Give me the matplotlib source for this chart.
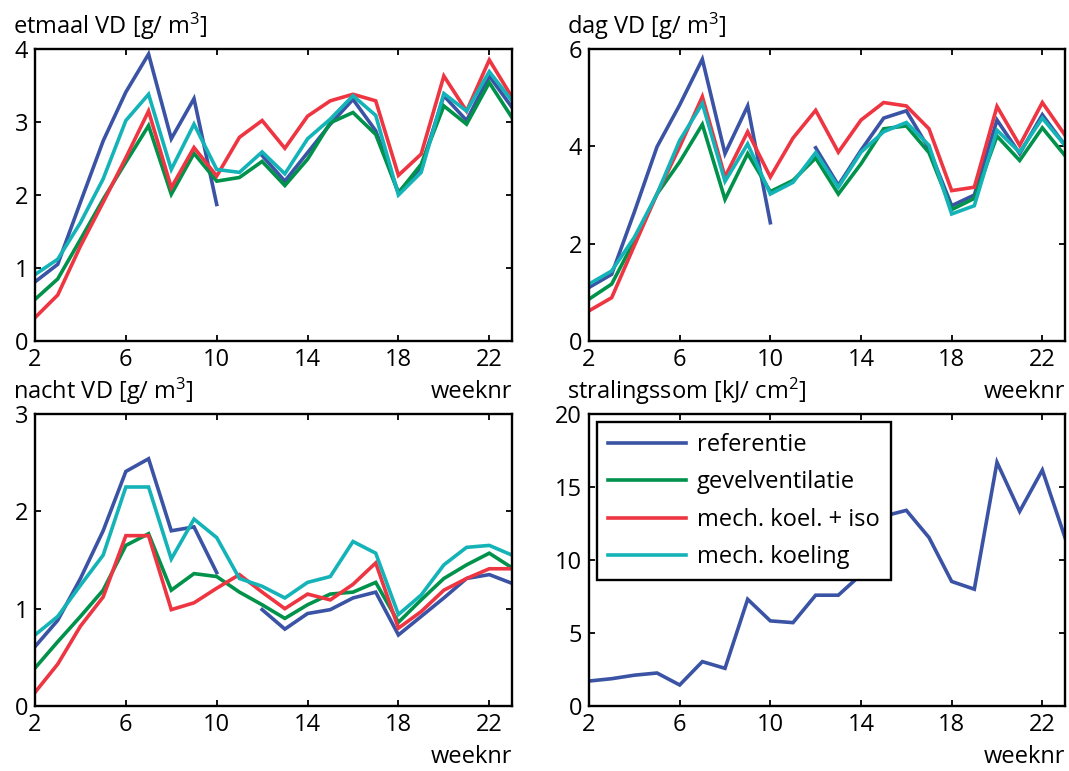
import numpy as np
import matplotlib
matplotlib.use("Agg")
from matplotlib import pyplot as plt

plt.rcParams['font.family'] = ['Open Sans', 'DejaVu Sans']
plt.rcParams['mathtext.fontset'] = 'custom'
plt.rcParams['mathtext.rm'] = 'Open Sans'
plt.rcParams['mathtext.default'] = 'regular'

weeks = list(range(2, 24))
nan = np.nan

names = ['referentie', 'gevelventilatie', 'mech. koel. + iso', 'mech. koeling']
colors = ['#3a53a4', '#00924a', '#ee3542', '#14b3b8']

# etmaal VD [g/m3]
etmaal_ref = [0.81, 1.05, 1.9, 2.74, 3.41, 3.93, 2.77, 3.32, 1.87, nan, 2.54, 2.19,
              2.58, 2.97, 3.31, 2.88, 2.03, 2.38, 3.36, 3.02, 3.63, 3.2]
etmaal_gevel = [0.57, 0.85, 1.39, 1.94, 2.45, 2.95, 2.01, 2.57, 2.19, 2.24, 2.46, 2.13,
                2.49, 2.99, 3.13, 2.83, 2.03, 2.42, 3.22, 2.97, 3.54, 3.06]
etmaal_iso = [0.32, 0.63, 1.3, 1.9, 2.51, 3.15, 2.1, 2.65, 2.26, 2.79, 3.02, 2.64,
              3.08, 3.29, 3.38, 3.29, 2.27, 2.56, 3.63, 3.15, 3.85, 3.34]
etmaal_koel = [0.91, 1.12, 1.62, 2.22, 3.02, 3.38, 2.35, 2.97, 2.35, 2.31, 2.59, 2.29,
               2.77, 3.04, 3.36, 3.09, 2.0, 2.31, 3.39, 3.15, 3.69, 3.29]

# dag VD [g/m3]
dag_ref = [1.1, 1.37, 2.65, 3.99, 4.85, 5.79, 3.85, 4.83, 2.43, nan, 3.97, 3.2,
           3.92, 4.58, 4.73, 3.95, 2.78, 3.0, 4.54, 3.85, 4.65, 4.02]
dag_gevel = [0.86, 1.17, 2.06, 3.02, 3.68, 4.45, 2.91, 3.85, 3.07, 3.3, 3.76, 3.02,
             3.64, 4.36, 4.42, 3.87, 2.7, 2.93, 4.21, 3.71, 4.38, 3.81]
dag_iso = [0.62, 0.89, 1.96, 3.02, 3.99, 5.02, 3.37, 4.3, 3.37, 4.17, 4.74, 3.88,
           4.54, 4.9, 4.83, 4.36, 3.09, 3.16, 4.82, 4.02, 4.9, 4.23]
dag_koel = [1.17, 1.44, 2.13, 3.02, 4.12, 4.88, 3.28, 4.05, 3.02, 3.26, 3.87, 3.16,
            3.88, 4.3, 4.49, 4.02, 2.61, 2.78, 4.33, 3.88, 4.58, 4.02]

# nacht VD [g/m3]
nacht_ref = [0.61, 0.88, 1.31, 1.8, 2.41, 2.54, 1.8, 1.84, 1.37, nan, 0.99, 0.79,
             0.95, 0.99, 1.11, 1.17, 0.73, 0.92, 1.11, 1.31, 1.35, 1.26]
nacht_gevel = [0.39, 0.66, 0.92, 1.19, 1.65, 1.77, 1.19, 1.36, 1.33, 1.17, 1.04, 0.9,
               1.04, 1.15, 1.17, 1.27, 0.86, 1.09, 1.31, 1.45, 1.57, 1.42]
nacht_iso = [0.14, 0.43, 0.82, 1.12, 1.75, 1.75, 0.99, 1.06, 1.21, 1.35, 1.17, 1.0,
             1.15, 1.09, 1.25, 1.47, 0.8, 0.97, 1.19, 1.31, 1.41, 1.41]
nacht_koel = [0.73, 0.92, 1.24, 1.55, 2.25, 2.25, 1.51, 1.92, 1.73, 1.31, 1.23, 1.11,
              1.27, 1.33, 1.69, 1.57, 0.94, 1.14, 1.45, 1.63, 1.65, 1.55]

# stralingssom [kJ/cm2]
straling = [1.71, 1.87, 2.11, 2.26, 1.44, 3.04, 2.58, 7.31, 5.83, 5.71, 7.59, 7.59,
            9.0, 13.0, 13.4, 11.54, 8.53, 8.0, 16.69, 13.33, 16.16, 11.54]

W, H = 1069, 771
fig = plt.figure(figsize=(W / 100, H / 100), dpi=100)

def px_axes(left, top, right, bottom):
    return fig.add_axes([left / W, (H - bottom) / H, (right - left) / W, (bottom - top) / H])

axes = [px_axes(35, 49, 512, 341), px_axes(589, 49, 1065, 341),
        px_axes(35, 414, 512, 706), px_axes(589, 414, 1065, 706)]

fs = 17
lw = 2.6
titles = ['etmaal VD [g/ m$^3$]', 'dag VD [g/ m$^3$]',
          'nacht VD [g/ m$^3$]', 'stralingssom [kJ/ cm$^2$]']
ylims = [(0, 4), (0, 6), (0, 3), (0, 20)]
yticks = [[0, 1, 2, 3, 4], [0, 2, 4, 6], [0, 1, 2, 3], [0, 5, 10, 15, 20]]
series = [[etmaal_ref, etmaal_gevel, etmaal_iso, etmaal_koel],
          [dag_ref, dag_gevel, dag_iso, dag_koel],
          [nacht_ref, nacht_gevel, nacht_iso, nacht_koel],
          [straling]]

for i, ax in enumerate(axes):
    for data, col, name in zip(series[i], colors, names):
        ax.plot(weeks, data, color=col, linewidth=lw, label=name, solid_joinstyle='miter')
    ax.set_xlim(2, 23)
    ax.set_ylim(*ylims[i])
    ax.set_xticks([2, 6, 10, 14, 18, 22])
    ax.set_yticks(yticks[i])
    ax.tick_params(direction='in', top=True, right=True, length=4, width=1.3,
                   labelsize=fs, colors='black')
    ax.tick_params(axis='x', pad=5)
    ax.tick_params(axis='y', pad=5)
    for sp in ax.spines.values():
        sp.set_linewidth(1.7)
    ax.text(-0.047, 1 + 15 / 292, titles[i], transform=ax.transAxes,
            ha='left', va='baseline', fontsize=fs)
    ax.text(1.0, -63 / 292, 'weeknr', transform=ax.transAxes,
            ha='right', va='bottom', fontsize=fs)

# legend lives in the radiation panel
ax = axes[3]
handles = [plt.Line2D([], [], color=c, linewidth=lw) for c in colors]
leg = ax.legend(handles, names, loc='upper left', bbox_to_anchor=(0.017, 0.973),
                borderaxespad=0, fontsize=fs, handlelength=3.3, handletextpad=0.45,
                labelspacing=0.57, borderpad=0.47, fancybox=False, framealpha=1)
leg.get_frame().set_edgecolor('black')
leg.get_frame().set_linewidth(1.7)

fig.savefig('out.png', dpi=100)
